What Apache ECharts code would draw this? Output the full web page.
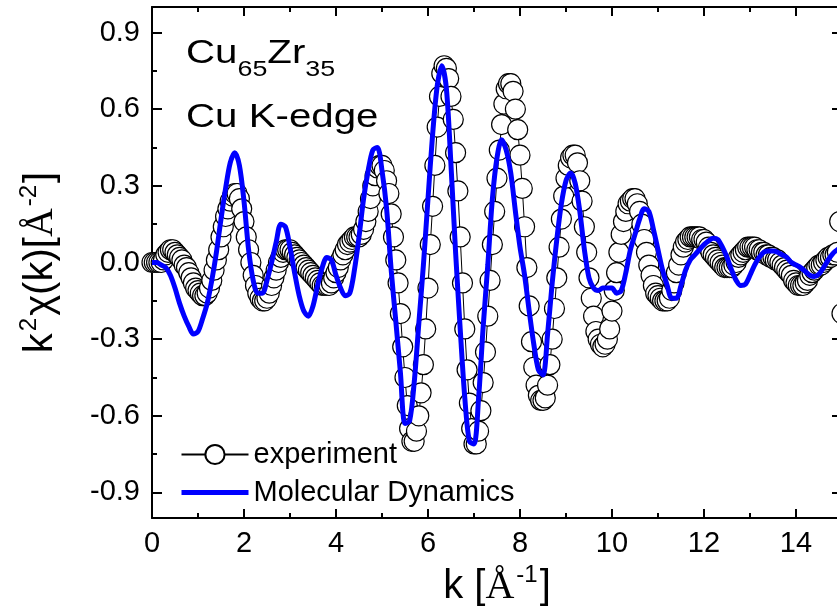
<!DOCTYPE html>
<html>
<head>
<meta charset="utf-8">
<script src="https://cdn.jsdelivr.net/npm/echarts@6/dist/echarts.min.js"></script>
<style>
  html, body { margin: 0; padding: 0; background: #fff; }
  #chart { width: 837px; height: 613px; }
</style>
</head>
<body>
<div id="chart"></div>
<script>
// k grid steps (Å^-1)
const expStep = 0.05
const mdStep = 0.1

// experiment k^2 chi(k), k = 0 .. 15 every 0.05
const expValues = [
  0.00, 0.00, 0.00, 0.00, 0.00, 0.01, 0.03, 0.04, 0.05, 0.05, 0.04, 0.03, 0.02, 0.01, -0.01, -0.02, -0.04, -0.06, -0.08, -0.10,
  -0.11, -0.12, -0.13, -0.13, -0.12, -0.10, -0.07, -0.03, 0.01, 0.05, 0.10, 0.14, 0.18, 0.21, 0.24, 0.26, 0.27, 0.27, 0.25, 0.21,
  0.16, 0.10, 0.05, 0.00, -0.05, -0.09, -0.12, -0.14, -0.15, -0.15, -0.14, -0.12, -0.09, -0.06, -0.03, 0.00, 0.02, 0.04, 0.05, 0.05,
  0.05, 0.04, 0.03, 0.02, 0.01, 0.00, -0.01, -0.02, -0.03, -0.04, -0.05, -0.06, -0.07, -0.08, -0.09, -0.09, -0.09, -0.09, -0.08, -0.06,
  -0.04, -0.02, 0.01, 0.03, 0.05, 0.07, 0.08, 0.09, 0.10, 0.10, 0.10, 0.11, 0.13, 0.16, 0.20, 0.25, 0.30, 0.34, 0.37, 0.38,
  0.38, 0.36, 0.32, 0.27, 0.19, 0.10, 0.01, -0.08, -0.20, -0.33, -0.45, -0.56, -0.65, -0.70, -0.70, -0.66, -0.60, -0.51, -0.40, -0.26,
  -0.10, 0.07, 0.22, 0.38, 0.53, 0.65, 0.74, 0.77, 0.76, 0.72, 0.65, 0.56, 0.43, 0.28, 0.10, -0.08, -0.26, -0.42, -0.55, -0.65,
  -0.71, -0.71, -0.66, -0.58, -0.47, -0.35, -0.21, -0.07, 0.07, 0.20, 0.33, 0.44, 0.54, 0.62, 0.68, 0.70, 0.70, 0.67, 0.60, 0.52,
  0.42, 0.29, 0.14, -0.02, -0.17, -0.31, -0.41, -0.48, -0.52, -0.54, -0.54, -0.53, -0.48, -0.40, -0.30, -0.18, -0.06, 0.06, 0.17, 0.26,
  0.33, 0.38, 0.41, 0.42, 0.42, 0.39, 0.32, 0.24, 0.14, 0.04, -0.06, -0.14, -0.21, -0.27, -0.30, -0.32, -0.33, -0.32, -0.30, -0.26,
  -0.19, -0.11, -0.04, 0.04, 0.11, 0.16, 0.20, 0.23, 0.24, 0.25, 0.25, 0.23, 0.20, 0.15, 0.09, 0.04, -0.01, -0.05, -0.09, -0.12,
  -0.13, -0.14, -0.15, -0.15, -0.15, -0.14, -0.11, -0.08, -0.04, -0.01, 0.03, 0.06, 0.08, 0.09, 0.10, 0.10, 0.10, 0.10, 0.10, 0.09,
  0.09, 0.08, 0.06, 0.04, 0.03, 0.02, 0.01, 0.00, -0.01, -0.02, -0.02, -0.02, -0.02, -0.01, 0.00, 0.02, 0.03, 0.04, 0.05, 0.06,
  0.06, 0.06, 0.06, 0.05, 0.05, 0.04, 0.04, 0.03, 0.03, 0.02, 0.02, 0.01, 0.01, 0.00, -0.01, -0.02, -0.03, -0.04, -0.05, -0.07,
  -0.08, -0.09, -0.09, -0.09, -0.08, -0.07, -0.05, -0.04, -0.03, -0.02, -0.01, -0.01, 0.00, 0.01, 0.02, 0.02, 0.03, 0.03, 0.04, 0.16,
  -0.20,
]

// molecular dynamics k^2 chi(k), k = 0 .. 15 every 0.1
const mdValues = [
  0.00, 0.00, -0.01, -0.02, -0.05, -0.10, -0.16, -0.21, -0.25, -0.28,
  -0.27, -0.22, -0.16, -0.07, 0.04, 0.17, 0.29, 0.39, 0.43, 0.38,
  0.24, 0.05, -0.07, -0.12, -0.12, -0.07, 0.00, 0.08, 0.15, 0.14,
  0.06, -0.04, -0.13, -0.19, -0.21, -0.17, -0.09, -0.02, 0.02, 0.01,
  -0.05, -0.10, -0.13, -0.12, -0.03, 0.10, 0.25, 0.36, 0.44, 0.45,
  0.36, 0.21, -0.03, -0.23, -0.43, -0.63, -0.62, -0.47, -0.24, -0.01,
  0.25, 0.50, 0.69, 0.77, 0.68, 0.38, 0.04, -0.26, -0.53, -0.70,
  -0.71, -0.53, -0.25, -0.01, 0.25, 0.41, 0.48, 0.44, 0.35, 0.20,
  0.06, -0.05, -0.19, -0.32, -0.42, -0.44, -0.28, -0.08, 0.09, 0.23,
  0.32, 0.35, 0.31, 0.20, 0.05, -0.06, -0.10, -0.11, -0.10, -0.10,
  -0.10, -0.12, -0.11, -0.04, 0.05, 0.11, 0.17, 0.21, 0.20, 0.13,
  0.05, -0.03, -0.09, -0.14, -0.14, -0.09, -0.03, 0.01, 0.03, 0.05,
  0.07, 0.085, 0.095, 0.09, 0.06, 0.02, -0.03, -0.07, -0.09, -0.085,
  -0.05, -0.01, 0.02, 0.04, 0.045, 0.045, 0.04, 0.03, 0.02, 0.00,
  -0.01, -0.02, -0.035, -0.05, -0.055, -0.045, -0.02, 0.01, 0.035, 0.05,
  0.06,
]

const xMajorTicks = [0, 2, 4, 6, 8, 10, 12, 14]
const xMinorTicks = [1, 3, 5, 7, 9, 11, 13]
const yMajorTicks = [-0.9, -0.6, -0.3, 0, 0.3, 0.6, 0.9]
const yMinorTicks = [-0.75, -0.45, -0.15, 0.15, 0.45, 0.75]

const SANS = '"Liberation Sans", Arial, sans-serif'
const SERIF = '"Liberation Serif", "Times New Roman", serif'

const expData = expValues.map((v, i) => [i * expStep, v])
const mdData = mdValues.map((v, i) => [i * mdStep, v])

const frame = { show: true, onZero: false, lineStyle: { color: '#000', width: 2 } }
const noLine = { show: false, onZero: false }
const labelFont = { color: '#000', fontSize: 29, fontFamily: SANS }

// tick-only helper axis
const tickAxis = (position, min, max, values, length, withLine) => ({
  type: 'value',
  position,
  min,
  max,
  axisLine: withLine ? frame : noLine,
  axisTick: { show: true, inside: true, length, customValues: values, lineStyle: { color: '#000', width: 2 } },
  axisLabel: { show: false },
  splitLine: { show: false },
})

// rich text for the axis titles (superscript raised)
const titleRich = {
  n: { fontSize: 40, lineHeight: 40, fontFamily: SANS, color: '#000', verticalAlign: 'bottom' },
  a: { fontSize: 40, lineHeight: 40, fontFamily: SERIF, color: '#000', verticalAlign: 'bottom' },
  s: { fontSize: 24, lineHeight: 24, fontFamily: SANS, color: '#000', padding: [0, 2, 24, 2] },
}

const chart = echarts.init(document.getElementById('chart'), null, { renderer: 'canvas' })

chart.setOption({
  animation: false,
  backgroundColor: '#fff',
  grid: { left: 152, top: 7, width: 690, height: 511, outerBoundsMode: 'none' },
  legend: {
    orient: 'vertical',
    left: 174,
    top: 435,
    itemWidth: 67,
    itemHeight: 24,
    itemGap: 9,
    textStyle: { color: '#000', fontSize: 29, fontFamily: SANS, lineHeight: 24 },
    data: [
      { name: 'experiment' },
      { name: 'Molecular Dynamics', itemStyle: { opacity: 0 }, lineStyle: { width: 5, color: '#0000ff' } },
    ],
  },
  xAxis: [
    {
      type: 'value',
      position: 'bottom',
      min: 0,
      max: 15,
      axisLine: frame,
      axisTick: { show: true, inside: true, length: 9, customValues: xMajorTicks, lineStyle: { color: '#000', width: 2 } },
      axisLabel: { ...labelFont, margin: 11, customValues: xMajorTicks },
      splitLine: { show: false },
      name: '{n|k [}{a|Å}{s|-1}{n|]}',
      nameLocation: 'middle',
      nameGap: 49,
      nameMoveOverlap: false,
      nameTextStyle: { rich: titleRich },
    },
    tickAxis('bottom', 0, 15, xMinorTicks, 5, false),
    tickAxis('top', 0, 15, xMajorTicks, 9, true),
    tickAxis('top', 0, 15, xMinorTicks, 5, false),
  ],
  yAxis: [
    {
      type: 'value',
      position: 'left',
      min: -1,
      max: 1,
      axisLine: frame,
      axisTick: { show: true, inside: true, length: 10, customValues: yMajorTicks, lineStyle: { color: '#000', width: 2 } },
      axisLabel: {
        ...labelFont,
        margin: 12,
        customValues: yMajorTicks,
        formatter: (v) => (Math.abs(v) < 1e-9 ? '0.0' : v.toFixed(1)),
      },
      splitLine: { show: false },
      name: '{n|k}{s|2}{n|χ(k)[}{a|Å}{s|-2}{n|]}',
      nameLocation: 'middle',
      nameRotate: 90,
      nameGap: 91,
      nameMoveOverlap: false,
      nameTextStyle: { rich: titleRich },
    },
    tickAxis('left', -1, 1, yMinorTicks, 5, false),
    tickAxis('right', -1, 1, yMajorTicks, 10, true),
  ],
  series: [
    {
      name: 'experiment',
      type: 'line',
      data: expData,
      symbol: 'circle',
      symbolSize: 20,
      showAllSymbol: true,
      clip: false,
      itemStyle: { color: '#fff', borderColor: '#000', borderWidth: 1.2 },
      lineStyle: { color: '#000', width: 1 },
      z: 2,
    },
    {
      name: 'Molecular Dynamics',
      type: 'line',
      data: mdData,
      smooth: 0.3,
      symbol: 'none',
      itemStyle: { color: '#0000ff' },
      lineStyle: { color: '#0000ff', width: 5 },
      z: 3,
    },
  ],
  graphic: [
    {
      type: 'text',
      x: 186,
      y: 37,
      scaleX: 1.22,
      style: {
        text: '{a|Cu}{b|65}{a|Zr}{b|35}',
        fill: '#000',
        rich: {
          a: { fontSize: 33, lineHeight: 33, fontFamily: SANS, verticalAlign: 'top' },
          b: { fontSize: 22, lineHeight: 22, fontFamily: SANS, padding: [33, 0, 0, 0] },
        },
      },
    },
    {
      type: 'text',
      x: 186,
      y: 101,
      scaleX: 1.22,
      style: { text: 'Cu K-edge', fill: '#000', fontSize: 33, fontFamily: SANS },
    },
  ],
})

window.addEventListener('resize', () => chart.resize())
</script>
</body>
</html>
